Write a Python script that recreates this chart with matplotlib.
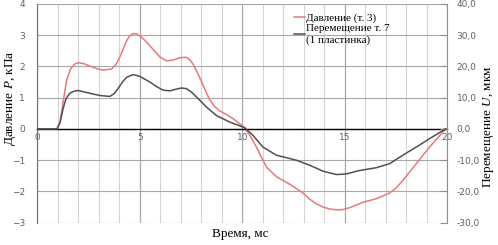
import numpy as np
import matplotlib
matplotlib.use("Agg")
import matplotlib.pyplot as plt
from matplotlib.ticker import FuncFormatter

# Давление (т. 3), кПа
t_p = [0, 0.94, 1.1, 1.25, 1.42, 1.6, 1.8, 1.99, 2.3, 2.56, 2.9, 3.21, 3.62, 3.85,
       4.02, 4.2, 4.35, 4.5, 4.67, 4.85, 5.0, 5.25, 5.49, 5.75, 5.98, 6.3, 6.6,
       6.95, 7.27, 7.45, 7.6, 7.85, 8.09, 8.41, 8.65, 8.9, 9.2, 9.55, 10.04,
       10.37, 10.69, 11.18, 11.67, 12.32, 12.97, 13.3, 13.62, 13.95, 14.27,
       14.6, 14.9, 15.24, 15.89, 16.55, 17.2, 17.5, 17.84, 18.5, 19.15, 19.93]
p = [0, 0, 0.22, 0.85, 1.55, 1.9, 2.07, 2.12, 2.08, 2.01, 1.93, 1.88, 1.92, 2.08,
     2.3, 2.58, 2.82, 2.98, 3.05, 3.04, 2.98, 2.83, 2.66, 2.47, 2.3, 2.18, 2.2,
     2.28, 2.29, 2.2, 2.07, 1.75, 1.39, 0.93, 0.72, 0.58, 0.47, 0.33, 0.08,
     -0.2, -0.58, -1.22, -1.53, -1.77, -2.05, -2.25, -2.4, -2.5, -2.56,
     -2.59, -2.58, -2.52, -2.35, -2.23, -2.05, -1.9, -1.65, -1.11, -0.58, 0.0]

# Перемещение т. 7 (1 пластинка), мкм
t_u = [0, 0.95, 1.1, 1.25, 1.4, 1.59, 1.8, 1.99, 2.56, 3.05, 3.53, 3.75, 3.94,
       4.15, 4.35, 4.67, 5.0, 5.49, 5.8, 6.14, 6.47, 6.75, 7.03, 7.27, 7.5,
       7.77, 8.25, 8.74, 9.39, 10.12, 10.53, 11.01, 11.67, 12.64, 13.29, 13.94,
       14.6, 15.08, 15.73, 16.55, 17.2, 17.84, 18.5, 19.15, 19.93]
u = [0, 0, 2.0, 6.5, 9.8, 11.5, 12.1, 12.3, 11.4, 10.7, 10.4, 11.3, 13.0,
     15.0, 16.5, 17.4, 16.8, 15.0, 13.6, 12.4, 12.2, 12.7, 13.1, 12.9, 11.9,
     10.2, 7.0, 4.3, 2.2, 0.4, -2.1, -5.8, -8.4, -10.0, -11.6, -13.5,
     -14.6, -14.4, -13.3, -12.4, -11.1, -8.4, -5.8, -3.1, 0.0]

red = "#e8787c"
dark = "#505050"
serif = "Liberation Serif"
plt.rcParams["mathtext.fontset"] = "custom"
plt.rcParams["mathtext.it"] = "Liberation Serif:italic"
plt.rcParams["mathtext.rm"] = "Liberation Serif"

fig = plt.figure(figsize=(4.98, 2.45), dpi=100)
ax = fig.add_axes([0.0753, 0.091, 0.8223, 0.893])
ax2 = ax.twinx()

ax.set_xlim(0, 20)
ax.set_ylim(-3, 4)
ax2.set_ylim(-30, 40)

ax.set_xticks([0, 5, 10, 15, 20])
ax.set_xticks(np.arange(0, 21, 1), minor=True)
ax.set_yticks(np.arange(-3, 5, 1))
ax2.set_yticks(np.arange(-30, 41, 10))

ax.grid(True, which="minor", axis="x", color="#d4d4d4", lw=0.8)
ax.grid(True, which="major", axis="x", color="#a8a8a8", lw=0.9)
ax.grid(True, which="major", axis="y", color="#a8a8a8", lw=0.8)
ax.set_axisbelow(True)

for s in ["top", "right"]:
    ax.spines[s].set_visible(False)
for s in ["top", "left", "bottom"]:
    ax2.spines[s].set_visible(False)
ax.spines["bottom"].set_position(("data", 0))
ax.spines["bottom"].set_color("black")
ax.spines["bottom"].set_linewidth(1.0)
ax.spines["left"].set_color("#707070")
ax2.spines["right"].set_color("#909090")

ax.tick_params(axis="x", which="both", length=0, pad=3, labelsize=6.5,
               labelcolor="#606060")
ax.tick_params(axis="y", length=0, pad=9, labelsize=6.5, labelcolor="#606060")
ax2.tick_params(axis="y", direction="in", length=5, color="#909090", pad=7,
                labelsize=6.5, labelcolor="#606060")
ax2.yaxis.set_major_formatter(FuncFormatter(lambda v, pos: f"{v:.1f}".replace(".", ",")))

ax.plot(t_p, p, color=red, lw=1.1, label="Давление (т. 3)", solid_joinstyle="round")
ax2.plot(t_u, u, color=dark, lw=1.1, label="Перемещение т. 7\n(1 пластинка)",
         solid_joinstyle="round")

ax.set_ylabel("Давление $P$, кПа", family=serif, fontsize=9.5)
ax.yaxis.set_label_coords(-0.048, 0.57)
ax2.set_ylabel("Перемещение $U$, мкм", family=serif, fontsize=9.5, rotation=90)
ax2.yaxis.set_label_coords(1.084, 0.44)
ax.set_xlabel("Время, мс", family=serif, fontsize=9.5)
ax.xaxis.set_label_coords(0.495, -0.024)

h1, l1 = ax.get_legend_handles_labels()
h2, l2 = ax2.get_legend_handles_labels()
ax2.legend(h1 + h2, l1 + l2, loc="upper left", bbox_to_anchor=(0.615, 0.98),
           frameon=False, prop={"family": serif, "size": 8}, handlelength=1.0,
           handletextpad=0.1, labelspacing=0.15, borderaxespad=0)

fig.savefig("out.png", dpi=100)
